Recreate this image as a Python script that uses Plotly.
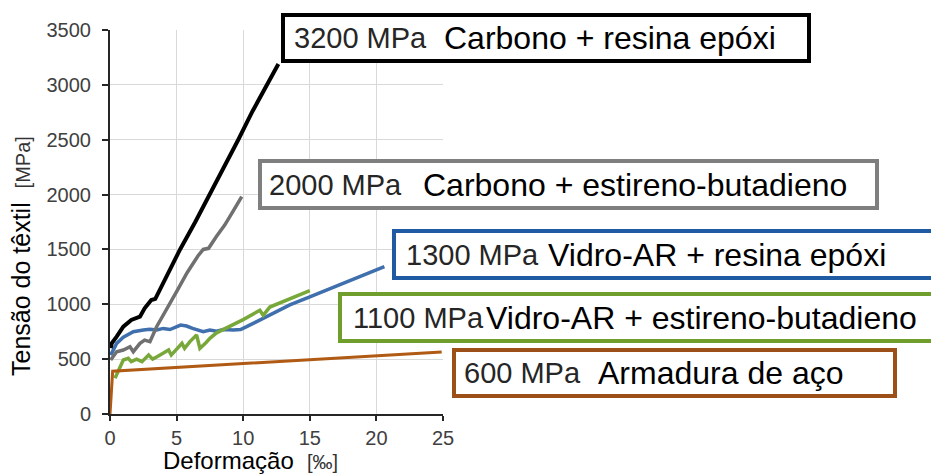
import plotly.graph_objects as go

# stress-strain curves of textile reinforcements vs. steel
# strain in per mille, stress in MPa

carb_ep_x = [0.05, 0.13, 0.5, 1.0, 1.6, 2.25, 2.6, 3.1, 3.4, 4.0, 4.6, 5.26, 6.4, 7.5, 8.6, 9.63, 10.7, 11.76, 12.64]
carb_ep_y = [600, 644, 705, 796, 857, 887, 963, 1039, 1050, 1200, 1340, 1500, 1750, 2000, 2250, 2500, 2760, 3000, 3190]

carb_sb_x = [0.05, 0.5, 1.0, 1.5, 1.75, 2.25, 2.6, 3.0, 3.5, 4.25, 5.0, 5.8, 6.6, 7.0, 7.4, 8.0, 8.6, 9.2, 9.89]
carb_sb_y = [492, 568, 583, 613, 568, 644, 674, 660, 796, 948, 1115, 1290, 1440, 1500, 1510, 1620, 1720, 1840, 1981]

vidro_ep_x = [0.05, 0.5, 1.0, 1.75, 2.5, 3.0, 3.5, 4.0, 4.5, 5.0, 5.3, 5.75, 6.2, 7.0, 7.5, 8.0, 8.5, 9.26, 9.8, 10.26, 11.0, 12.0, 13.5, 15.0, 16.5, 18.0, 19.5, 20.6]
vidro_ep_y = [537, 644, 700, 750, 765, 772, 765, 780, 770, 790, 810, 802, 780, 750, 765, 755, 770, 766, 770, 796, 840, 905, 994, 1068, 1140, 1215, 1290, 1343]

vidro_sb_x = [0.375, 0.6, 1.0, 1.37, 1.6, 2.0, 2.4, 2.9, 3.2, 3.5, 4.0, 4.4, 4.6, 5.0, 5.4, 5.6, 6.0, 6.5, 6.75, 7.2, 7.5, 8.0, 9.0, 10.0, 11.25, 11.5, 12.0, 13.5, 14.5, 15.0]
vidro_sb_y = [325, 380, 492, 507, 477, 500, 477, 537, 500, 520, 560, 583, 537, 590, 644, 598, 660, 720, 598, 650, 690, 740, 796, 860, 945, 900, 975, 1054, 1100, 1125]

aco_x = [0.0, 0.2, 24.9]
aco_y = [0, 390, 565]

x_ticks = [0, 5, 10, 15, 20, 25]
y_ticks = [0, 500, 1000, 1500, 2000, 2500, 3000, 3500]

label_mpa = ["3200 MPa", "2000 MPa", "1300 MPa", "1100 MPa", "600 MPa"]
label_name = ["Carbono + resina epóxi", "Carbono + estireno-butadieno",
              "Vidro-AR + resina epóxi", "Vidro-AR + estireno-butadieno",
              "Armadura de aço"]

FONT = "Liberation Sans, Arial, sans-serif"

# plot area in pixels: x 110..443, y 30..414
def px(x):
    return (x - 110) / 333

def py(y):
    return (414 - y) / 384

fig = go.Figure()

series = [
    (vidro_ep_x, vidro_ep_y, "#3f70ad", 3.5),
    (vidro_sb_x, vidro_sb_y, "#78a83a", 3.5),
    (carb_sb_x, carb_sb_y, "#707070", 3.5),
    (carb_ep_x, carb_ep_y, "#000000", 4),
    (aco_x, aco_y, "#b05a14", 3),
]
for xs, ys, col, w in series:
    fig.add_trace(go.Scatter(x=xs, y=ys, mode="lines",
                             line=dict(color=col, width=w), showlegend=False))

# label boxes: (left, top, right, bottom) outer px, border colour, text x's, centre y
boxes = [
    (281, 13, 811, 63, "#000000", 293, 443, 38),
    (258, 159, 879, 210, "#7f7f7f", 268, 422, 184.5),
    (392, 229, 945, 280, "#1f5ba3", 405, 547, 254.5),
    (338, 292, 945, 343, "#6f9e2c", 352, 485, 317.5),
    (452, 348, 897, 398, "#9c4f16", 463, 597, 373),
]

shapes = []
annotations = []
for i, (l, t, r, b, col, xm, xn, yc) in enumerate(boxes):
    shapes.append(dict(type="rect", xref="paper", yref="paper",
                       x0=px(l + 2), x1=px(r - 2), y0=py(b - 2), y1=py(t + 2),
                       line=dict(color=col, width=4), fillcolor="white", layer="above"))
    annotations.append(dict(xref="paper", yref="paper", x=px(xm), y=py(yc),
                            xanchor="left", yanchor="middle", showarrow=False,
                            borderpad=0, text=label_mpa[i],
                            font=dict(family=FONT, size=29, color="#262626")))
    annotations.append(dict(xref="paper", yref="paper", x=px(xn), y=py(yc),
                            xanchor="left", yanchor="middle", showarrow=False,
                            borderpad=0, text=label_name[i],
                            font=dict(family=FONT, size=32, color="#000000")))

# axis titles
annotations.append(dict(xref="paper", yref="paper", x=px(21), y=py(256),
                        xanchor="center", yanchor="middle", showarrow=False,
                        textangle=-90,
                        text="Tensão do têxtil\u00a0\u00a0<span style='font-size:20px;color:#333333'>[MPa]</span>",
                        font=dict(family=FONT, size=25, color="#000000")))
annotations.append(dict(xref="paper", yref="paper", x=px(250), y=py(460),
                        xanchor="center", yanchor="middle", showarrow=False,
                        text="Deformação\u00a0\u00a0<span style='font-size:20px;color:#333333'>[‰]</span>",
                        font=dict(family=FONT, size=24, color="#000000")))

fig.update_xaxes(range=[0, 25], tickvals=x_ticks, showgrid=True, gridcolor="#d9d9d9",
                 gridwidth=1, zeroline=False, showline=True, linecolor="#262626",
                 linewidth=2, ticks="outside", ticklen=5, tickwidth=2, tickcolor="#262626",
                 ticklabelstandoff=0,
                 tickfont=dict(family=FONT, size=20, color="#404040"))
fig.update_yaxes(range=[0, 3500], tickvals=y_ticks, showgrid=True, gridcolor="#d9d9d9",
                 gridwidth=1, zeroline=False, showline=True, linecolor="#262626",
                 linewidth=2, ticks="outside", ticklen=6, tickwidth=2, tickcolor="#262626",
                 ticklabelstandoff=7,
                 tickfont=dict(family=FONT, size=20, color="#404040"))

fig.update_layout(
    width=931,
    height=474,
    autosize=False,
    margin=dict(l=110, r=488, t=30, b=60, pad=0),
    plot_bgcolor="white",
    paper_bgcolor="white",
    shapes=shapes,
    annotations=annotations,
)

# drop the default page margin so the figure sits at the window corner
fig.write_html("out.html", config={"displayModeBar": False},
               post_script="document.body.style.margin='0px';")
